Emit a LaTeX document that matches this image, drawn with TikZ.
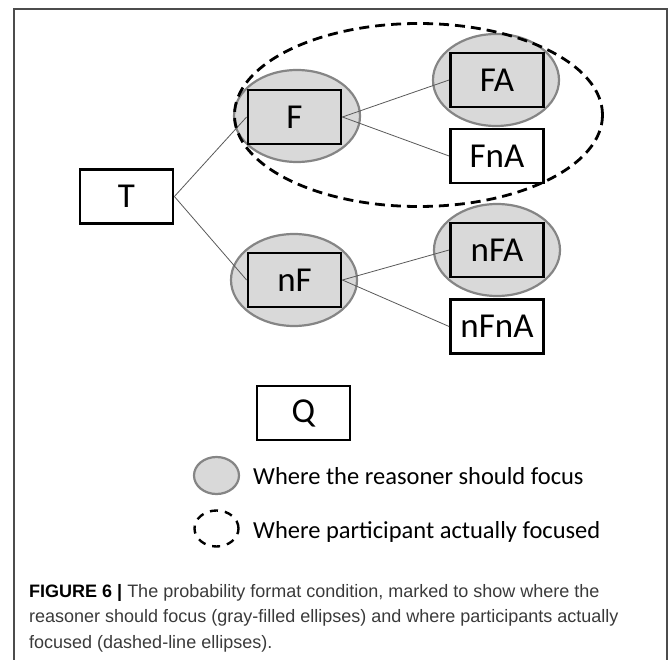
\documentclass[tikz,border=0pt]{standalone}
\usepackage{fontspec}
\setmainfont{Carlito}
\newfontfamily\capfont{Liberation Sans}
\usetikzlibrary{shapes.geometric}
\definecolor{ellfill}{HTML}{D9D9D9}
\definecolor{elldraw}{HTML}{858585}
\definecolor{capgray}{HTML}{3A3A3A}
\tikzset{
  box/.style={draw=black, line width=2.8pt, minimum width=93pt, minimum height=54pt, inner sep=0pt, font=\fontsize{35}{40}\selectfont},
  graybox/.style={box, fill=ellfill},
  whitebox/.style={box, fill=white},
  grayell/.style={ellipse, draw=elldraw, fill=ellfill, line width=2.2pt, minimum width=126pt, minimum height=92pt, inner sep=0pt},
  dashell/.style={ellipse, draw=black, dash pattern=on 10pt off 6pt, line width=2.8pt, inner sep=0pt},
  link/.style={draw=black!65, line width=0.8pt},
  legtext/.style={anchor=base west, inner sep=0pt, font=\fontsize{24.5}{28}\selectfont},
  captext/.style={anchor=base west, inner sep=0pt, text=capgray, font=\capfont\fontsize{18}{21}\selectfont},
  frameline/.style={draw=black!70, line width=1.3pt}
}
\begin{document}
\begin{tikzpicture}[x=1pt, y=-1pt]
\useasboundingbox (0,0) rectangle (669,660);
% frame
\draw[frameline] (14,662) -- (14,9) -- (667,9) -- (667,662);
% gray focus ellipses
\node[grayell] (eF) at (297,116) {};
\node[grayell] (eFA) at (496,80) {};
\node[grayell] (enF) at (294,280) {};
\node[grayell] (enFA) at (497,250) {};
% boxes
\node[whitebox] (T) at (126.5,196.5) {T};
\node[graybox] (F) at (294.5,117) {F};
\node[graybox] (FA) at (497,80) {FA};
\node[whitebox] (FnA) at (497,156) {FnA};
\node[graybox] (nF) at (294.5,280) {nF};
\node[graybox] (nFA) at (497,250) {nFA};
\node[whitebox] (nFnA) at (497,326.5) {nFnA};
\node[whitebox] (Q) at (303.5,413) {Q};
% connectors
\draw[link] (T.east) -- (F.west);
\draw[link] (T.east) -- (nF.west);
\draw[link] (F.east) -- (FA.west);
\draw[link] (F.east) -- (FnA.west);
\draw[link] (nF.east) -- (nFA.west);
\draw[link] (nF.east) -- (nFnA.west);
% dashed ellipse
\node[dashell, minimum width=368pt, minimum height=183pt] (dF) at (418.5,115) {};
% legend
\node[grayell, minimum width=45pt, minimum height=37pt] (lg) at (216.5,475.5) {};
\node[dashell, minimum width=44pt, minimum height=36pt, line width=2.4pt, dash pattern=on 8pt off 7pt] (ld) at (216.5,528.5) {};
\node[legtext] (lt1) at (253,484) {Where the reasoner should focus};
\node[legtext] (lt2) at (253,538) {Where participant actually focused};
% caption
\node[captext] (c1) at (29,597) {\textcolor{black}{\bfseries FIGURE 6 |} The probability format condition, marked to show where the};
\node[captext] (c2) at (29,622) {reasoner should focus (gray-filled ellipses) and where participants actually};
\node[captext] (c3) at (29,648) {focused (dashed-line ellipses).};
\end{tikzpicture}
\end{document}
